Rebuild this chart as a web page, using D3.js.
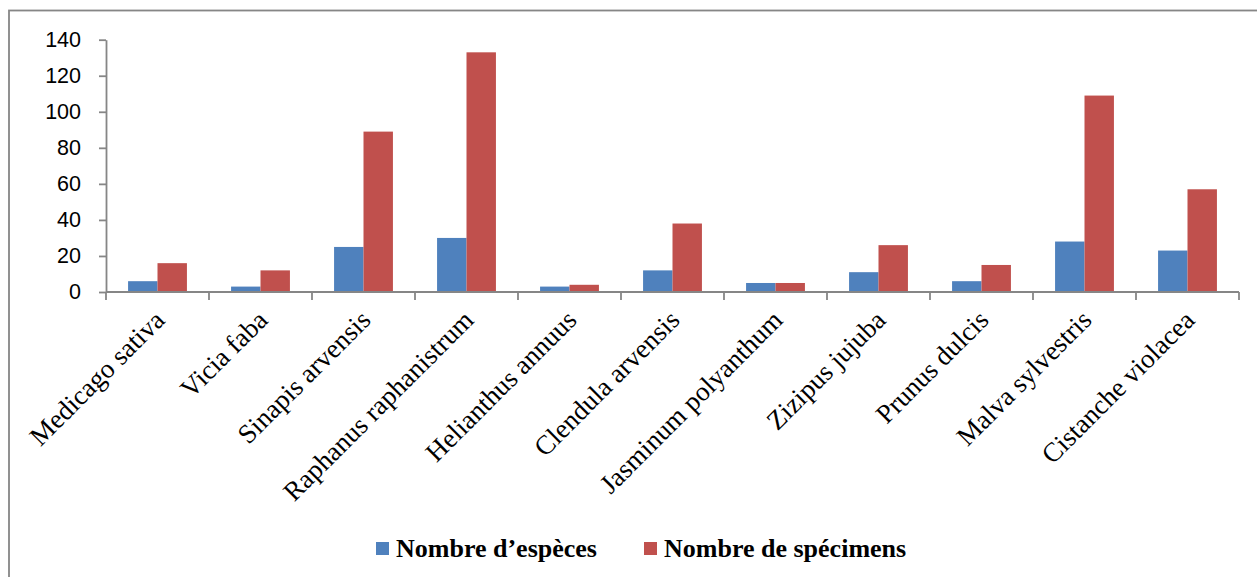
<!DOCTYPE html>
<html>
<head>
<meta charset="utf-8">
<script src="https://cdn.jsdelivr.net/npm/d3@7"></script>
<style>
  html, body { margin: 0; padding: 0; background: #fff; }
  svg { display: block; }
</style>
</head>
<body>
<svg id="chart" width="1257" height="577"></svg>
<script>
const categories = ["Medicago sativa", "Vicia faba", "Sinapis arvensis", "Raphanus raphanistrum",
  "Helianthus annuus", "Clendula arvensis", "Jasminum polyanthum", "Zizipus jujuba",
  "Prunus dulcis", "Malva sylvestris", "Cistanche violacea"];
const seriesNames = ["Nombre d\u2019esp\u00e8ces", "Nombre de sp\u00e9cimens"];
const especes = [6, 3, 25, 30, 3, 12, 5, 11, 6, 28, 23];
const specimens = [16, 12, 89, 133, 4, 38, 5, 26, 15, 109, 57];
const yTicks = [0, 20, 40, 60, 80, 100, 120, 140];
const colors = ["#4F81BD", "#C0504D"];

const svg = d3.select("#chart");
const axisColor = "#868686";

// outer chart frame
svg.append("rect")
  .attr("x", 9).attr("y", 10.5)
  .attr("width", 1400).attr("height", 700)
  .attr("fill", "none").attr("stroke", axisColor).attr("stroke-width", 1.8);

const plot = { left: 106, right: 1239, top: 39.7, bottom: 292 };

const y = d3.scaleLinear().domain([0, 140]).range([plot.bottom, plot.top]);
const x0 = d3.scaleBand().domain(categories).range([plot.left, plot.right]).padding(0);
const x1 = d3.scaleBand().domain(seriesNames).range([0, x0.bandwidth()])
  .paddingInner(0).paddingOuter(0.75);

const data = categories.map((c, i) => ({ cat: c, vals: [especes[i], specimens[i]] }));

// bars
const groups = svg.append("g").selectAll("g").data(data).join("g")
  .attr("transform", d => `translate(${x0(d.cat)},0)`);
groups.selectAll("rect")
  .data(d => d.vals.map((v, j) => ({ s: seriesNames[j], v, j })))
  .join("rect")
  .attr("x", d => x1(d.s))
  .attr("width", x1.bandwidth())
  .attr("y", d => y(d.v))
  .attr("height", d => y(0) - y(d.v))
  .attr("fill", d => colors[d.j]);

// y axis
const yAxis = svg.append("g")
  .attr("transform", `translate(${plot.left},0)`)
  .call(d3.axisLeft(y).tickValues(yTicks).tickSize(7).tickPadding(18).tickSizeOuter(0));
yAxis.select(".domain").attr("stroke", axisColor).attr("stroke-width", 1.8);
yAxis.selectAll(".tick line").attr("stroke", axisColor).attr("stroke-width", 1.8);
yAxis.selectAll(".tick text")
  .attr("fill", "#000")
  .style("font-family", "'Liberation Sans', Arial, sans-serif")
  .style("font-size", "21.5px");

// x axis line
svg.append("line")
  .attr("x1", plot.left).attr("x2", plot.right)
  .attr("y1", y(0)).attr("y2", y(0))
  .attr("stroke", axisColor).attr("stroke-width", 1.8);
// x ticks at category boundaries
const boundaries = categories.map(c => x0(c)).concat([x0(categories[categories.length - 1]) + x0.bandwidth()]);
svg.append("g").selectAll("line").data(boundaries).join("line")
  .attr("x1", d => d).attr("x2", d => d)
  .attr("y1", y(0)).attr("y2", y(0) + 8)
  .attr("stroke", axisColor).attr("stroke-width", 1.8);

// category labels
svg.append("g").selectAll("text").data(categories).join("text")
  .attr("transform", d => `translate(${x0(d) + x0.bandwidth() / 2 + 2},${y(0) + 23}) rotate(-45)`)
  .attr("text-anchor", "end")
  .attr("dy", "0.35em")
  .style("font-family", "'Liberation Serif', 'Times New Roman', serif")
  .style("font-size", "27px")
  .attr("fill", "#000")
  .text(d => d);

// legend
const legendItems = [
  { name: seriesNames[0], color: colors[0], x: 376 },
  { name: seriesNames[1], color: colors[1], x: 644 }
];
const lg = svg.append("g").selectAll("g").data(legendItems).join("g")
  .attr("transform", d => `translate(${d.x},0)`);
lg.append("rect").attr("x", 0).attr("y", 542).attr("width", 13).attr("height", 13)
  .attr("fill", d => d.color);
lg.append("text").attr("x", 20).attr("y", 556.5)
  .style("font-family", "'Liberation Serif', 'Times New Roman', serif")
  .style("font-size", "26px").style("font-weight", "bold")
  .attr("fill", "#000")
  .text(d => d.name);
</script>
</body>
</html>
